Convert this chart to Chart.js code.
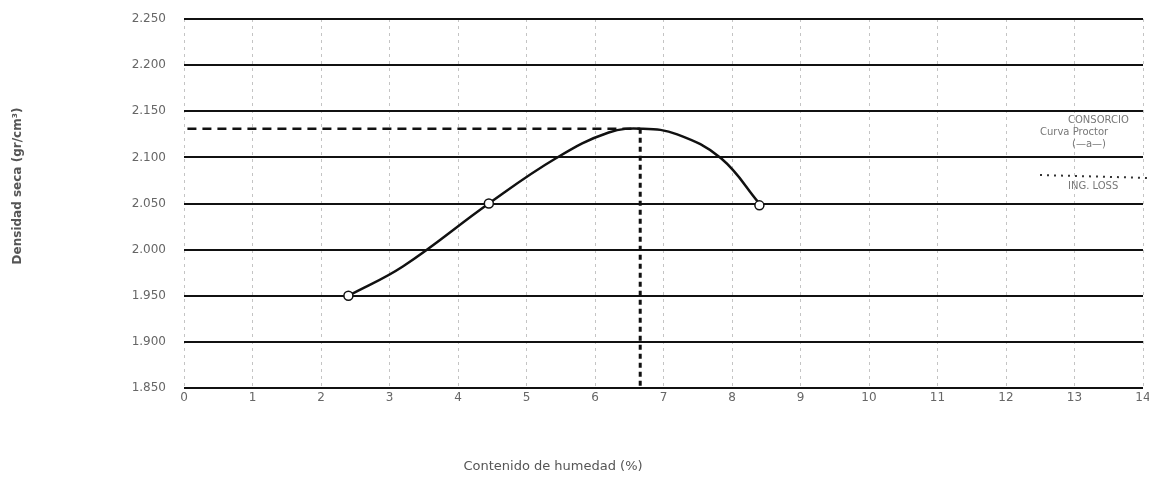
<!DOCTYPE html>
<html>
<head>
<meta charset="utf-8">
<script src="https://cdn.jsdelivr.net/npm/chart.js@4.4.0/dist/chart.umd.min.js"></script>
<style>
  html, body { margin: 0; padding: 0; background: #fff; }
  #wrap { width: 1149px; height: 487px; }
</style>
</head>
<body>
<div id="wrap"><canvas id="proctor" width="1149" height="487"></canvas></div>
<script>
// muestras de ensayo (humedad %, densidad seca)
const muestraHumedad = [2.4, 4.45, 8.4];
const muestraDensidad = [1.950, 2.050, 2.048];

// curva trazada a mano
const curvaHumedad = [2.4, 3.2, 4.45, 5.43, 6.2, 6.7, 7.2, 7.84, 8.4];
const curvaDensidad = [1.950, 1.982, 2.050, 2.099, 2.127, 2.131, 2.125, 2.099, 2.050];

// optimo: humedad optima y densidad maxima
const humedadOptima = 6.66;
const densidadMaxima = 2.131;

const yTicks = [1.850, 1.900, 1.950, 2.000, 2.050, 2.100, 2.150, 2.200, 2.250];
const xTicks = [0, 1, 2, 3, 4, 5, 6, 7, 8, 9, 10, 11, 12, 13, 14];

const tituloX = 'Contenido de humedad (%)';
const tituloY = 'Densidad seca (gr/cm³)';
const notas = [
    { text: 'CONSORCIO', x: 1068, y: 120 },
    { text: 'Curva Proctor', x: 1040, y: 132 },
    { text: '(—a—)', x: 1072, y: 144 },
    { text: 'ING. LOSS', x: 1068, y: 186 }
];

function toPts(xs, ys) {
    return xs.map((x, i) => ({ x: x, y: ys[i] }));
}

const notasPlugin = {
    id: 'notas',
    afterDraw(chart) {
        const ctx = chart.ctx;
        ctx.save();
        ctx.font = '10px "DejaVu Sans"';
        ctx.fillStyle = '#777';
        ctx.textBaseline = 'middle';
        notas.forEach(n => ctx.fillText(n.text, n.x, n.y));
        // titulos de ejes, algo fuera del centro como en la figura
        ctx.font = '13px "DejaVu Sans"';
        ctx.fillStyle = '#555';
        ctx.textAlign = 'center';
        ctx.fillText(tituloX, 553, 467);
        ctx.save();
        ctx.translate(18, 186);
        ctx.rotate(-Math.PI / 2);
        ctx.font = 'bold 12px "DejaVu Sans"';
        ctx.fillText(tituloY, 0, 0);
        ctx.restore();
        // linea punteada de la leyenda
        ctx.strokeStyle = '#333';
        ctx.lineWidth = 2;
        ctx.setLineDash([2, 5]);
        ctx.beginPath();
        ctx.moveTo(1040, 175);
        ctx.lineTo(1149, 178);
        ctx.stroke();
        ctx.restore();
    }
};

const ctx = document.getElementById('proctor').getContext('2d');
new Chart(ctx, {
    type: 'scatter',
    data: {
        datasets: [
            {
                label: 'curva',
                data: toPts(curvaHumedad, curvaDensidad),
                showLine: true,
                borderColor: '#111',
                borderWidth: 2.5,
                pointRadius: 0,
                tension: 0.4,
                order: 2
            },
            {
                label: 'muestras',
                data: toPts(muestraHumedad, muestraDensidad),
                showLine: false,
                pointRadius: 4.5,
                pointBackgroundColor: '#fff',
                pointBorderColor: '#111',
                pointBorderWidth: 1.5,
                order: 1
            },
            {
                label: 'densidad maxima',
                data: [{ x: 0.05, y: densidadMaxima }, { x: humedadOptima, y: densidadMaxima }],
                showLine: true,
                borderColor: '#111',
                borderWidth: 2.5,
                borderDash: [9, 6],
                pointRadius: 0,
                order: 3
            },
            {
                label: 'humedad optima',
                data: [{ x: humedadOptima, y: densidadMaxima }, { x: humedadOptima, y: 1.85 }],
                showLine: true,
                borderColor: '#111',
                borderWidth: 3,
                borderDash: [5, 4],
                pointRadius: 0,
                order: 3
            }
        ]
    },
    options: {
        responsive: false,
        animation: false,
        layout: { padding: { top: 19, right: 6, left: 0, bottom: 0 } },
        plugins: {
            legend: { display: false },
            tooltip: { enabled: false }
        },
        scales: {
            x: {
                type: 'linear',
                min: 0,
                max: 14,
                afterBuildTicks: s => { s.ticks = xTicks.map(v => ({ value: v })); },
                afterFit: s => {
                    s.height = 99;
                    s.paddingLeft = 0;
                    s.paddingRight = 0;
                },
                grid: {
                    color: '#c4c4c4',
                    lineWidth: 1,
                    drawTicks: false
                },
                border: { display: false, dash: [3, 4] },
                ticks: {
                    padding: 3,
                    color: '#666',
                    font: { family: 'DejaVu Sans', size: 12 }
                }
            },
            y: {
                min: 1.85,
                max: 2.25,
                afterBuildTicks: s => { s.ticks = yTicks.map(v => ({ value: v })); },
                afterFit: s => {
                    s.width = 184;
                    s.paddingTop = 0;
                    s.paddingBottom = 0;
                },
                border: { display: false },
                grid: {
                    color: '#111',
                    lineWidth: 2,
                    drawTicks: false
                },
                ticks: {
                    padding: 18,
                    color: '#666',
                    font: { family: 'DejaVu Sans', size: 12 },
                    callback: v => v.toFixed(3)
                }
            }
        }
    },
    plugins: [notasPlugin]
});
</script>
</body>
</html>
